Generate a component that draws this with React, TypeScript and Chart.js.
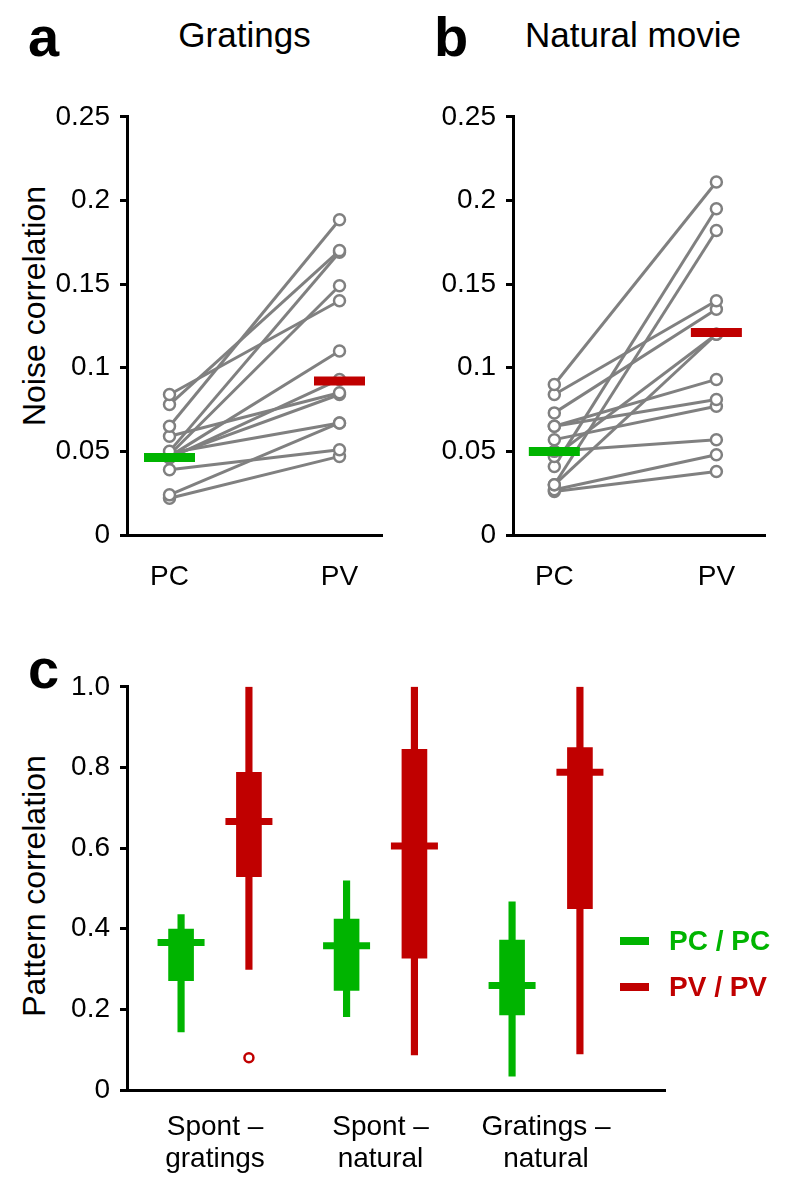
import React, { useEffect, useRef } from "react";
import { Chart, registerables } from "chart.js";

Chart.register(...registerables);
Chart.defaults.font.family = '"Liberation Sans", Arial, sans-serif';
Chart.defaults.color = "#000";

// ---------- DATA ----------
// Panel a: Gratings (paired PC -> PV noise correlations)
const gratingsPC = [0.084, 0.078, 0.065, 0.059, 0.050, 0.048, 0.047, 0.046, 0.047, 0.049, 0.039, 0.024, 0.022];
const gratingsPV = [0.140, 0.170, 0.1885, 0.085, 0.169, 0.149, 0.110, 0.093, 0.084, 0.067, 0.051, 0.067, 0.047];
const gratingsMedian = [0.0463, 0.092]; // PC, PV

// Panel b: Natural movie
const naturalPC = [0.090, 0.084, 0.073, 0.065, 0.065, 0.057, 0.050, 0.047, 0.041, 0.030, 0.030, 0.027, 0.026];
const naturalPV = [0.211, 0.140, 0.135, 0.093, 0.081, 0.077, 0.057, 0.120, 0.195, 0.182, 0.120, 0.048, 0.038];
const naturalMedian = [0.0499, 0.121];

const cellTypes = ["PC", "PV"];
const noiseTicks = [0, 0.05, 0.1, 0.15, 0.2, 0.25];

// Panel c: pattern correlation box plots
const comparisons = [["Spont \u2013", "gratings"], ["Spont \u2013", "natural"], ["Gratings \u2013", "natural"]];
const pcMin = [0.144, 0.182, 0.034];
const pcQ1 = [0.271, 0.247, 0.186];
const pcMed = [0.366, 0.358, 0.259];
const pcQ3 = [0.399, 0.424, 0.372];
const pcMax = [0.435, 0.519, 0.467];
const pvMin = [0.299, 0.087, 0.0895];
const pvQ1 = [0.529, 0.327, 0.450];
const pvMed = [0.666, 0.605, 0.788];
const pvQ3 = [0.788, 0.845, 0.849];
const pvMax = [1.0, 1.0, 1.0];
const pvOutlierGroup = [0];
const pvOutlierValue = [0.08];
const patternTicks = [0, 0.2, 0.4, 0.6, 0.8, 1.0];

// ---------- STYLE ----------
const GREEN = "#00b400";
const RED = "#c00000";
const GRAY = "#808080";
const FONT = '"Liberation Sans", Arial, sans-serif';
const GROUP_OFFSET = 0.205;

function yAxisCommon(min: number, max: number, ticks: number[], fmt: (v: number) => string) {
  return {
    type: "linear",
    min,
    max,
    afterBuildTicks: (s: any) => {
      s.ticks = ticks.map((v) => ({ value: v }));
    },
    afterFit: (s: any) => {
      s.width = 127;
    },
    ticks: { font: { size: 28 }, padding: 10, callback: (v: any) => fmt(Number(v)), color: "#000" },
    grid: { display: true, drawOnChartArea: false, drawTicks: true, tickLength: 7, lineWidth: 3, color: "#000" },
    border: { display: true, color: "#000", width: 3 },
  };
}

function pairedConfig(pc: number[], pv: number[], med: number[], xmin: number, xmax: number, padRight: number) {
  const datasets: any[] = [];
  datasets.push({
    type: "scatter",
    data: [{ x: 1, y: med[0] }],
    pointStyle: "line",
    pointRadius: 25.5,
    borderWidth: 9,
    borderColor: GREEN,
    backgroundColor: GREEN,
    order: 0,
  });
  datasets.push({
    type: "scatter",
    data: [{ x: 2, y: med[1] }],
    pointStyle: "line",
    pointRadius: 25.5,
    borderWidth: 9,
    borderColor: RED,
    backgroundColor: RED,
    order: 0,
  });
  pc.forEach((v, i) => {
    datasets.push({
      type: "scatter",
      showLine: true,
      data: [
        { x: 1, y: v },
        { x: 2, y: pv[i] },
      ],
      borderColor: GRAY,
      borderWidth: 3,
      pointRadius: 5.5,
      pointBorderWidth: 2.5,
      pointBorderColor: GRAY,
      pointBackgroundColor: "#fff",
      order: 1,
    });
  });
  return {
    type: "scatter",
    data: { datasets },
    options: {
      animation: false,
      responsive: false,
      events: [],
      layout: { autoPadding: false, padding: { left: 0, top: 18, right: padRight, bottom: 0 } },
      plugins: { legend: { display: false }, tooltip: { enabled: false }, title: { display: false } },
      scales: {
        x: {
          type: "linear",
          min: xmin,
          max: xmax,
          offset: false,
          afterBuildTicks: (s: any) => {
            s.ticks = [{ value: 1 }, { value: 2 }];
          },
          afterFit: (s: any) => {
            s.height = 65;
          },
          ticks: { font: { size: 28 }, padding: 25, callback: (v: any) => cellTypes[Number(v) - 1], color: "#000", maxRotation: 0 },
          grid: { display: false, drawTicks: false },
          border: { display: true, color: "#000", width: 3 },
        },
        y: yAxisCommon(0, 0.25, noiseTicks, (v) => String(Math.round(v * 100) / 100)),
      },
    },
  };
}

function boxConfig() {
  const xs = (i: number, side: number) => i + 1 + side * GROUP_OFFSET;
  const datasets: any[] = [
    {
      type: "bar",
      data: comparisons.map((_, i) => ({ x: xs(i, -1), y: [pcMin[i], pcMax[i]] })),
      backgroundColor: GREEN,
      barThickness: 6.5,
      grouped: false,
      order: 3,
    },
    {
      type: "bar",
      data: comparisons.map((_, i) => ({ x: xs(i, -1), y: [pcQ1[i], pcQ3[i]] })),
      backgroundColor: GREEN,
      barThickness: 25,
      grouped: false,
      order: 2,
    },
    {
      type: "bar",
      data: comparisons.map((_, i) => ({ x: xs(i, 1), y: [pvMin[i], pvMax[i]] })),
      backgroundColor: RED,
      barThickness: 6.5,
      grouped: false,
      order: 3,
    },
    {
      type: "bar",
      data: comparisons.map((_, i) => ({ x: xs(i, 1), y: [pvQ1[i], pvQ3[i]] })),
      backgroundColor: RED,
      barThickness: 25,
      grouped: false,
      order: 2,
    },
    {
      type: "scatter",
      data: comparisons.map((_, i) => ({ x: xs(i, -1), y: pcMed[i] })),
      pointStyle: "line",
      pointRadius: 23.5,
      borderWidth: 7,
      borderColor: GREEN,
      order: 0,
    },
    {
      type: "scatter",
      data: comparisons.map((_, i) => ({ x: xs(i, 1), y: pvMed[i] })),
      pointStyle: "line",
      pointRadius: 23.5,
      borderWidth: 7,
      borderColor: RED,
      order: 0,
    },
    {
      type: "scatter",
      data: pvOutlierGroup.map((g, k) => ({ x: xs(g, 1), y: pvOutlierValue[k] })),
      pointStyle: "circle",
      pointRadius: 4.5,
      pointBorderWidth: 2.5,
      pointBorderColor: RED,
      pointBackgroundColor: "#fff",
      order: 0,
    },
  ];
  return {
    type: "scatter",
    data: { datasets },
    options: {
      animation: false,
      responsive: false,
      events: [],
      layout: { autoPadding: false, padding: { left: 0, top: 20, right: 135, bottom: 0 } },
      plugins: { legend: { display: false }, tooltip: { enabled: false }, title: { display: false } },
      scales: {
        x: {
          type: "linear",
          min: 0.4683,
          max: 3.719,
          offset: false,
          afterBuildTicks: (s: any) => {
            s.ticks = comparisons.map((_, i) => ({ value: i + 1 }));
          },
          afterFit: (s: any) => {
            s.height = 106;
          },
          ticks: {
            font: { size: 28, lineHeight: 1.143 },
            padding: 21,
            callback: (v: any) => comparisons[Number(v) - 1],
            color: "#000",
            maxRotation: 0,
            autoSkip: false,
          },
          grid: { display: false, drawTicks: false },
          border: { display: true, color: "#000", width: 3 },
        },
        y: yAxisCommon(0, 1, patternTicks, (v) => (v === 0 ? "0" : v.toFixed(1))),
      },
    },
  };
}

function ChartCanvas({ config, left, top, width, height }: any) {
  const ref = useRef<HTMLCanvasElement>(null);
  useEffect(() => {
    if (!ref.current) return;
    const chart = new Chart(ref.current, config());
    return () => chart.destroy();
  }, []);
  return (
    <div style={{ position: "absolute", left, top, width, height }}>
      <canvas ref={ref} width={width} height={height} style={{ width, height, display: "block" }} />
    </div>
  );
}

function Label({ text, left, top, size, bold, color, width, align }: any) {
  return (
    <div
      style={{
        position: "absolute",
        left,
        top,
        width,
        fontSize: size,
        lineHeight: `${size}px`,
        fontWeight: bold ? 700 : 400,
        color: color || "#000",
        textAlign: align || "left",
        whiteSpace: "nowrap",
        fontFamily: FONT,
      }}
    >
      {text}
    </div>
  );
}

function YTitle({ text, cx, cy, size }: any) {
  const W = 420;
  const H = 36;
  return (
    <div
      style={{
        position: "absolute",
        left: cx - W / 2,
        top: cy - H / 2,
        width: W,
        height: H,
        lineHeight: `${H}px`,
        fontSize: size,
        textAlign: "center",
        transform: "rotate(-90deg)",
        whiteSpace: "nowrap",
        fontFamily: FONT,
        color: "#000",
      }}
    >
      {text}
    </div>
  );
}

export default function App() {
  return (
    <div style={{ position: "fixed", left: 0, top: 0, width: 800, height: 1196, background: "#fff", overflow: "hidden" }}>
      <Label text="a" left={28} top={9} size={56} bold />
      <Label text="Gratings" left={94.5} top={17} size={35} width={300} align="center" />
      <Label text="b" left={434} top={9} size={56} bold />
      <Label text="Natural movie" left={483} top={17} size={35} width={300} align="center" />
      <Label text="c" left={28} top={641} size={56} bold />

      <YTitle text="Noise correlation" cx={34} cy={306} size={32} />
      <YTitle text="Pattern correlation" cx={34} cy={886} size={32} />

      <ChartCanvas
        config={() => pairedConfig(gratingsPC, gratingsPV, gratingsMedian, 0.75, 2.25, 18)}
        left={0}
        top={90}
        width={400}
        height={510}
      />
      <ChartCanvas
        config={() => pairedConfig(naturalPC, naturalPV, naturalMedian, 0.745, 2.3, 35)}
        left={386}
        top={90}
        width={414}
        height={510}
      />
      <ChartCanvas config={boxConfig} left={0} top={660} width={800} height={536} />

      <div style={{ position: "absolute", left: 620, top: 937, width: 29, height: 8, background: GREEN }} />
      <Label text="PC / PC" left={669} top={927} size={28} bold color={GREEN} />
      <div style={{ position: "absolute", left: 620, top: 983, width: 29, height: 8, background: RED }} />
      <Label text="PV / PV" left={669} top={973} size={28} bold color={RED} />
    </div>
  );
}
